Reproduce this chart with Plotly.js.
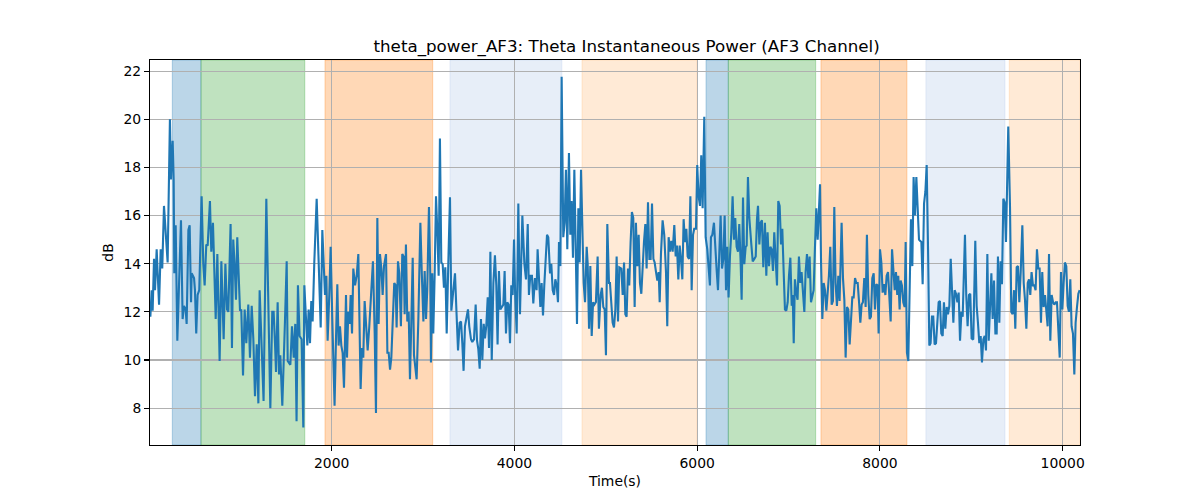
<!DOCTYPE html>
<html>
<head>
<meta charset="utf-8">
<script src="https://cdn.plot.ly/plotly-3.0.1.min.js"></script>
<style>
  html, body { margin: 0; padding: 0; background: #ffffff; }
  #chart { width: 1200px; height: 500px; }
</style>
</head>
<body>
<div id="chart"></div>
<script>
// ---- data ----
const time = [
  16,30,41,56,67,85,96,111,129,146,
  165,183,205,230,241,260,271,278,293,311,
  329,351,369,384,402,413,432,446,461,468,
  494,504,518,533,551,577,595,610,628,643,
  668,683,701,712,731,749,774,793,818,837,
  855,869,894,909,923,938,953,967,997,1011,
  1030,1048,1066,1088,1106,1125,1143,1161,1180,1198,
  1212,1231,1241,1255,1285,1307,1329,1350,1365,1380,
  1391,1409,1424,1438,1460,1489,1508,1519,1548,1566,
  1585,1602,1616,1631,1649,1671,1690,1701,
  1719,1734,1748,1763,1777,1792,1810,1836,1858,1880,
  1898,1916,1927,1942,1956,1974,1989,2007,2032,2047,
  2062,2076,2091,2106,2120,2135,2146,2157,2168,2182,
  2197,2208,2223,2237,2256,2274,2292,2303,2317,2331,
  2346,2361,2375,2394,2412,2430,2452,2471,2485,2500,
  2514,2529,2544,2558,2573,2595,2610,2624,2639,2653,
  2668,2685,2700,2711,2726,2740,2758,2773,2788,2799,
  2813,2828,2843,2857,2872,2887,2901,2916,2930,2949,
  2971,2985,3004,3018,3033,3046,3065,3079,3087,3101,
  3112,3127,3142,3156,3171,3185,3200,3215,3229,3244,
  3259,3277,3295,3310,3324,3339,
  3350,3365,3383,3401,3416,3430,3444,3459,3477,3492,
  3506,3525,3539,3558,3576,3591,3605,3620,3634,3649,
  3664,3678,3693,3708,3722,3737,3752,3770,3787,3802,
  3816,3831,3846,3860,3879,3893,3908,3922,3937,3952,
  3966,3981,3996,4007,4025,4043,4061,4087,4109,4127,
  4146,4159,4174,4192,4207,4225,4243,4254,4269,4284,
  4298,4313,4327,4342,4357,4371,4390,4404,4419,4434,
  4448,4463,4477,4488,4503,4517,4535,4550,4564,4579,
  4597,4612,4626,4641,4656,4670,4685,4700,4714,4729,
  4743,4758,4773,4791,4802,4817,4831,4846,4861,4875,
  4892,4911,4925,4944,4958,4973,4988,5002,5017,5035,
  5046,5061,5075,5090,5105,5119,5134,5148,5170,5185,
  5200,5214,5228,5243,5257,5272,5286,5301,5316,5330,
  5345,5360,5374,5389,5403,5418,5433,5447,5462,5477,
  5491,5506,5521,5535,5550,5564,5579,5590,5604,5622,
  5640,5659,5673,5688,5702,5717,5732,5750,5765,5779,
  5794,5809,5823,5838,5852,5867,5882,5896,5911,5926,
  5940,5955,5968,5987,6001,6016,6031,6045,6060,6078,
  6093,6111,6126,6140,6151,6166,6184,6199,6214,6228,
  6243,6257,6272,6287,6301,6316,6330,6344,6359,6374,
  6388,6403,6417,6432,6447,6461,6476,6487,6502,6516,
  6531,6542,6556,6571,6593,6608,6626,6641,6655,6666,
  6681,6694,6709,6724,
  6742,6757,6771,6786,6801,6815,6830,6844,6859,6874,
  6888,6903,6918,6932,6947,6961,6976,6991,7005,7020,
  7035,7046,7057,7070,7085,7099,7114,7129,7143,7158,
  7173,7187,7202,7217,7231,7246,7260,7275,7290,7304,
  7319,7330,7345,7356,7370,7385,7399,7414,7429,7442,
  7457,7472,7486,7501,7515,7530,7545,7559,7581,7596,
  7611,7625,7640,7654,7669,7684,7698,7713,7728,7742,
  7757,7772,7786,7800,7814,7829,7844,7858,7873,7888,
  7902,7917,7932,7946,7961,7975,7986,8001,8016,8030,
  8045,8060,8074,8089,8103,8118,8133,8147,8162,8176,
  8190,8201,8216,8227,8241,8256,8271,8282,8296,8311,
  8326,8340,8355,8369,8384,8399,8413,8428,
  8439,8454,8468,8483,8498,8512,8527,8541,8555,8570,
  8584,8599,8614,8628,8643,8657,8672,8687,8701,8716,
  8731,8745,8760,8775,8789,8804,8818,8833,8848,8862,
  8877,8892,8906,8920,8931,8945,8960,8975,8989,9004,
  9022,9044,9059,9073,9088,9103,9117,9132,9147,9161,
  9176,9191,9205,9220,9234,9249,9264,9278,9292,9307,
  9321,9336,9351,9365,9380,9391,9405,9424,9438,9453,
  9468,9482,9497,9511,9526,9541,9559,9574,9588,9603,
  9618,9632,9646,9660,9675,9690,9704,9719,9734,9748,
  9763,9777,9792,9807,9821,9836,9851,9865,9880,9895,
  9909,9924,9938,9953,9968,9982,9997,10011,10025,10040,
  10055,10069,10084,10098,10113,10128,10142,10157,10172,10186
];

const thetaPower = [
  11.8,12.9,12.05,14.2,12.9,14.6,13.6,12.3,14.6,13.8,
  16.4,15.3,14.05,20.0,17.5,19.1,17.5,13.6,15.6,10.8,
  12.9,15.8,11.7,12.25,12.1,11.5,15.4,15.6,12.4,13.6,
  13.4,12.9,11.1,12.7,12.9,16.8,14.0,13.1,14.8,14.75,
  16.6,14.5,15.7,14.5,11.7,14.4,9.96,14.1,10.86,14.0,
  12.1,12.0,15.65,10.5,15.0,13.98,12.5,15.1,12.05,12.1,
  9.36,12.1,10.7,12.3,10.1,12.25,10.86,8.5,10.65,8.2,
  12.9,10.86,10.0,8.3,16.7,12.9,8.0,12.0,12.0,10.7,
  9.5,12.4,9.4,10.2,8.1,11.6,14.1,9.96,9.8,11.4,
  10.1,11.5,7.46,13.1,11.0,10.86,7.2,13.1,
  12.0,10.6,12.1,10.7,12.45,11.6,14.05,16.7,14.05,11.35,
  15.4,14.05,12.7,13.5,10.8,12.7,14.7,11.7,8.1,10.8,
  13.15,10.6,11.4,10.6,10.3,8.85,11.0,12.7,10.1,12.0,
  11.5,12.7,11.1,13.8,13.1,13.5,14.4,12.0,8.8,10.5,
  10.1,12.45,11.6,10.4,11.4,12.5,14.1,11.1,7.8,15.9,
  11.5,14.4,13.8,12.7,13.9,14.4,10.3,10.3,9.6,10.1,
  11.9,13.2,13.1,11.35,14.1,13.6,11.4,14.4,14.3,11.9,
  14.8,11.6,12.0,9.2,11.6,14.25,10.2,9.5,9.2,11.7,
  15.7,13.8,11.6,13.7,11.7,12.9,16.35,13.6,9.9,13.6,
  11.1,13.5,16.8,15.4,13.5,19.2,14.05,13.98,13.0,13.85,
  11.1,14.05,16.76,12.05,12.7,13.4,
  13.6,12.1,10.4,11.55,11.6,10.7,9.55,11.4,11.9,12.1,
  11.4,10.86,10.75,10.86,12.3,10.8,10.45,9.64,11.7,10.0,
  11.5,10.9,11.45,12.6,10.5,14.5,10.0,13.2,14.35,13.1,
  10.65,13.7,12.1,12.2,12.3,13.7,11.1,12.4,12.3,10.7,
  13.1,12.7,15.0,12.9,11.1,16.5,11.9,16.0,14.0,13.35,
  15.65,12.7,13.5,13.5,12.35,13.4,12.9,14.6,13.3,12.2,
  13.2,11.85,13.1,14.05,15.2,15.1,13.6,14.0,12.9,12.7,
  13.35,13.1,12.4,14.9,13.9,21.76,15.1,15.7,17.9,14.6,
  18.6,15.2,16.6,14.25,17.9,14.9,11.5,16.3,14.05,17.9,
  15.2,13.2,12.4,14.7,14.0,11.3,13.9,11.0,12.4,12.3,
  12.4,14.3,11.3,12.7,13.0,12.2,12.1,10.2,15.65,13.2,
  13.2,12.2,11.55,11.35,12.1,14.3,11.6,13.85,13.8,12.7,
  14.05,11.9,11.8,13.8,13.1,14.9,16.15,15.9,12.2,15.7,
  13.9,15.2,13.2,12.75,14.05,14.9,15.65,13.8,16.55,14.2,
  14.2,16.5,14.2,14.05,13.65,13.3,13.65,12.4,14.4,15.8,
  15.2,13.65,11.4,15.1,14.5,14.95,14.5,15.6,14.3,14.75,
  13.35,14.75,14.2,13.35,15.85,14.9,15.45,14.3,14.2,16.8,
  12.9,15.2,15.45,15.45,18.1,16.8,16.4,18.5,16.3,20.1,
  15.1,14.6,13.8,13.1,15.1,15.2,15.7,14.5,13.7,12.9,
  14.9,16.0,13.8,14.2,16.0,12.9,14.7,12.6,14.3,15.3,
  16.8,15.0,15.9,14.7,14.5,15.65,14.05,12.5,16.75,13.98,
  14.7,14.75,17.6,15.9,14.8,14.1,14.2,14.3,15.85,16.4,
  14.8,15.7,15.8,13.85,
  15.7,13.5,15.3,13.9,14.7,14.6,13.7,15.3,14.2,13.1,
  16.6,16.4,14.8,15.45,13.65,12.1,12.05,12.4,13.5,14.25,
  12.25,12.7,10.7,13.35,12.8,12.5,14.3,13.2,13.65,12.9,
  12.0,13.65,14.4,13.4,14.3,12.4,12.7,12.9,14.75,16.3,
  15.0,16.35,17.3,14.05,11.7,13.2,12.9,12.05,12.8,13.5,
  14.7,12.3,12.45,16.35,13.2,12.25,13.5,12.45,15.7,13.4,
  12.5,10.1,12.2,12.1,10.65,11.55,12.6,12.6,13.4,13.2,
  13.2,12.4,11.55,12.3,12.4,13.4,12.2,15.2,12.7,11.7,
  11.8,13.4,13.6,12.1,13.15,13.1,11.1,14.6,14.05,12.8,
  13.15,12.7,13.5,13.65,12.3,11.6,14.6,13.6,12.9,13.65,
  12.7,13.5,12.1,13.3,13.1,12.4,12.2,14.9,10.3,9.96,
  12.9,15.85,13.9,17.6,16.0,17.6,16.35,15.0,
  14.95,14.9,13.15,16.5,17.0,18.1,14.6,10.6,10.7,11.8,
  11.8,10.65,10.7,11.7,12.4,12.45,11.1,11.0,12.4,11.3,
  12.2,11.9,12.25,14.2,12.9,11.55,12.9,12.75,12.4,12.8,
  10.8,12.0,11.8,13.8,15.2,12.7,11.4,12.7,12.75,10.9,
  10.85,14.95,12.25,11.55,10.7,11.0,9.9,10.85,11.0,10.4,
  14.4,10.8,12.1,13.6,11.7,13.3,11.1,11.1,14.3,11.55,
  14.1,13.15,16.7,16.55,14.9,16.6,19.7,16.35,12.0,11.9,
  12.9,11.3,13.85,13.9,12.4,13.65,15.6,13.2,12.5,11.3,
  13.2,13.35,12.7,13.65,13.1,13.1,12.9,14.6,13.8,13.8,
  11.55,13.65,12.2,12.7,12.1,11.4,14.4,10.8,12.7,12.4,
  12.3,12.4,12.4,11.1,10.1,13.65,12.1,13.2,14.05,13.9,
  12.25,12.0,13.35,11.4,11.1,9.4,11.55,12.2,12.75,12.9
];

// shaded segments (time spans) and the kind of each segment
const segmentStart = [256, 570, 1927, 3295, 4740, 6097, 6341, 7355, 8504, 9416];
const segmentEnd   = [570, 1706, 3106, 4519, 5997, 6341, 7297, 8296, 9369, 10190];
const segmentKind  = ['A', 'B', 'C', 'D', 'E', 'A', 'B', 'C', 'D', 'E'];

const xTicks = [2000, 4000, 6000, 8000, 10000];
const yTicks = [8, 10, 12, 14, 16, 18, 20, 22];

// ---- styles ----
const kindStyle = {
  A: 'rgba(31,119,180,0.30)',
  B: 'rgba(44,160,44,0.30)',
  C: 'rgba(255,127,14,0.30)',
  D: 'rgba(174,199,232,0.30)',
  E: 'rgba(255,187,120,0.30)'
};

const shapes = segmentStart.map((s, i) => ({
  type: 'rect', xref: 'x', yref: 'paper',
  x0: s, x1: segmentEnd[i], y0: 0, y1: 1,
  fillcolor: kindStyle[segmentKind[i]],
  line: { color: kindStyle[segmentKind[i]], width: 1 },
  layer: 'below'
}));

const font = 'DejaVu Sans, sans-serif';

const trace = {
  x: time, y: thetaPower, type: 'scatter', mode: 'lines',
  line: { color: '#1f77b4', width: 2.1 },
  hoverinfo: 'skip'
};

const layout = {
  width: 1200, height: 500,
  margin: { l: 150, r: 120, t: 60, b: 55 },
  paper_bgcolor: '#ffffff', plot_bgcolor: 'rgba(0,0,0,0)',
  showlegend: false,
  font: { family: font, size: 13.9, color: '#000000' },
  title: {
    text: 'theta_power_AF3: Theta Instantaneous Power (AF3 Channel)',
    font: { family: font, size: 16.7, color: '#000000' },
    x: 0.5125, xanchor: 'center', xref: 'paper',
    y: 1, yref: 'paper', yanchor: 'bottom', pad: { b: 8 }
  },
  xaxis: {
    range: [12, 10190],
    tickvals: xTicks, ticktext: xTicks.map(String),
    ticks: 'outside', ticklen: 4.9, tickwidth: 1.1, tickcolor: '#000',
    showgrid: true, gridcolor: '#b0b0b0', gridwidth: 1.1,
    showline: true, linecolor: '#000', linewidth: 1.1, mirror: true,
    zeroline: false,
    tickfont: { family: font, size: 13.9, color: '#000' },
    title: { text: 'Time(s)', font: { family: font, size: 13.9, color: '#000' }, standoff: 6 }
  },
  yaxis: {
    range: [6.47, 22.46],
    tickvals: yTicks, ticktext: yTicks.map(String),
    ticks: 'outside', ticklen: 4.9, tickwidth: 1.1, tickcolor: '#000',
    showgrid: true, gridcolor: '#b0b0b0', gridwidth: 1.1,
    showline: true, linecolor: '#000', linewidth: 1.1, mirror: true,
    zeroline: false,
    tickfont: { family: font, size: 13.9, color: '#000' },
    title: { text: 'dB', font: { family: font, size: 13.9, color: '#000' }, standoff: 6 }
  },
  shapes: shapes
};

Plotly.newPlot('chart', [trace], layout, { staticPlot: true, displayModeBar: false });
</script>
</body>
</html>
